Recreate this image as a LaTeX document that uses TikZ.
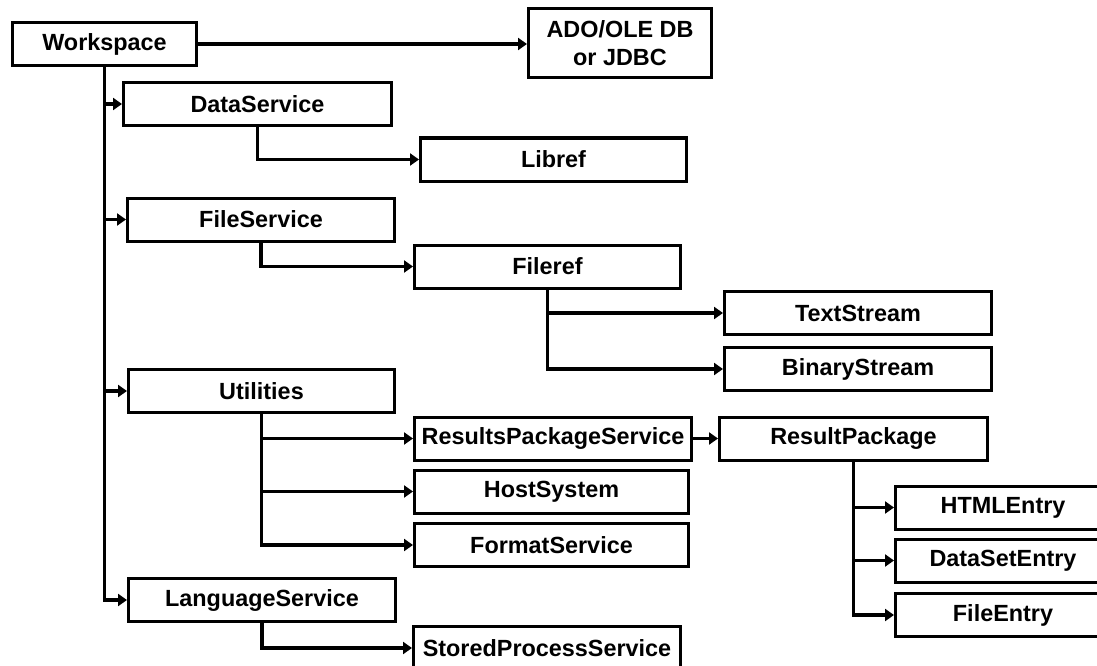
\documentclass[tikz,border=0pt]{standalone}
\usepackage{fontspec}
\setmainfont{Liberation Sans}
\usetikzlibrary{arrows.meta}

\tikzset{
  box/.style={draw, line width=3pt, minimum width=267pt, minimum height=43pt,
    inner sep=0pt, align=center, font=\bfseries\fontsize{23.4}{28}\selectfont},
  link/.style={line width=3.5pt, -{Triangle[length=9pt,width=12pt]}}
}

\begin{document}
\begin{tikzpicture}[x=1pt,y=-1pt]
  \useasboundingbox (0,0) rectangle (1097,666);
  \clip (0,0) rectangle (1097,666);
  % boxes
  \node[box,minimum width=184pt] (ws) at (104.5,44) {Workspace};
  \node[box,minimum width=183pt,minimum height=69pt] (ado) at (620,43) {ADO/OLE DB\\or JDBC};
  \node[box,minimum width=268pt] (ds) at (257.5,104) {DataService};
  \node[box,minimum width=266pt] (libref) at (553.5,159.5) {Libref};
  \node[box] (fs) at (261,219.5) {FileService};
  \node[box,minimum width=266pt] (fileref) at (547.5,266.5) {Fileref};
  \node[box] (ts) at (858,313) {TextStream};
  \node[box] (bs) at (858,369) {BinaryStream};
  \node[box,minimum width=266pt] (util) at (261.5,391) {Utilities};
  \node[box,minimum width=277pt] (rps) at (553,438.5) {ResultsPackageService};
  \node[box,minimum width=268pt] (rp) at (853.5,438.5) {ResultPackage};
  \node[box,minimum width=274pt] (host) at (551.5,491.5) {HostSystem};
  \node[box,minimum width=274pt] (fmt) at (551.5,545) {FormatService};
  \node[box,minimum width=215pt] (html) at (1003,507.5) {HTMLEntry};
  \node[box,minimum width=215pt] (dse) at (1003,560.5) {DataSetEntry};
  \node[box,minimum width=215pt] (fe) at (1003,615) {FileEntry};
  \node[box] (ls) at (262,600) {LanguageService};
  \node[box] (sps) at (547,648) {StoredProcessService};
  % connectors
  \draw[link] (ws.east) -- (ws.east -| ado.west);
  \draw[link] (ws.south) |- (ds.west);
  \draw[link] (ws.south) |- (fs.west);
  \draw[link] (ws.south) |- (util.west);
  \draw[link] (ws.south) |- (ls.west);
  \draw[link] (ds.south) |- (libref.west);
  \draw[link] (fs.south) |- (fileref.west);
  \draw[link] (fileref.south) |- (ts.west);
  \draw[link] (fileref.south) |- (bs.west);
  \draw[link] (util.south) |- (rps.west);
  \draw[link] (util.south) |- (host.west);
  \draw[link] (util.south) |- (fmt.west);
  \draw[link] (rps.east) -- (rp.west);
  \draw[link] (rp.south) |- (html.west);
  \draw[link] (rp.south) |- (dse.west);
  \draw[link] (rp.south) |- (fe.west);
  \draw[link] (ls.south) |- (sps.west);
\end{tikzpicture}
\end{document}
